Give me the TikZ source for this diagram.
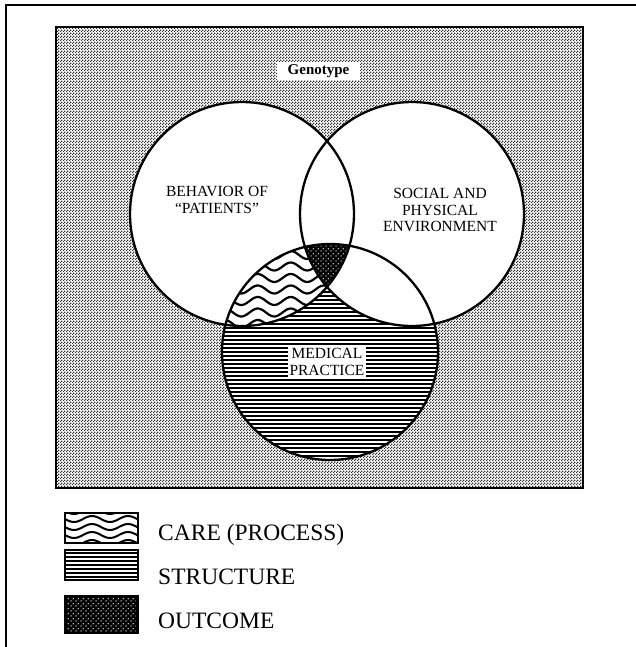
\documentclass[tikz,border=0pt]{standalone}
\usepackage{fontspec}
\setmainfont{Liberation Serif}
\usetikzlibrary{patterns}

\pgfdeclarepatternformonly{checker}{\pgfqpoint{0pt}{0pt}}{\pgfqpoint{3pt}{3pt}}{\pgfqpoint{3pt}{3pt}}{%
 \pgfpathrectangle{\pgfqpoint{0pt}{0pt}}{\pgfqpoint{1.5pt}{1.5pt}}%
 \pgfpathrectangle{\pgfqpoint{1.5pt}{1.5pt}}{\pgfqpoint{1.5pt}{1.5pt}}%
 \pgfusepath{fill}}
\pgfdeclarepatternformonly{whitedots}{\pgfqpoint{0pt}{0pt}}{\pgfqpoint{5pt}{5pt}}{\pgfqpoint{5pt}{5pt}}{%
 \pgfpathcircle{\pgfqpoint{1.25pt}{1.25pt}}{0.8pt}%
 \pgfpathcircle{\pgfqpoint{3.75pt}{3.75pt}}{0.8pt}%
 \pgfusepath{fill}}

\tikzset{
  outline/.style={line width=2.3pt, black},
  wave/.style={line width=2.2pt, black},
  hline/.style={line width=2pt, black},
  lbl/.style={align=center, font=\fontsize{15.5}{16.5}\selectfont, inner sep=1pt},
  legtext/.style={anchor=base west, font=\fontsize{23.5}{26}\selectfont, inner sep=0pt},
}

\begin{document}
\begin{tikzpicture}[x=1pt,y=-1pt]
\useasboundingbox (0,0) rectangle (636,647);
\fill[white] (0,0) rectangle (636,647);

% outer frame
\draw[line width=1.3pt] (5,5) -- (636,5);
\draw[line width=1.3pt] (6,5) -- (6,647);

% coordinates
\coordinate (cL) at (242,214);
\coordinate (cR) at (412,214);
\coordinate (cM) at (330,352);
\def\rL{112}
\def\rR{112}
\def\rM{108}

% background
\fill[pattern=checker, pattern color=black!80] (56,27) rectangle (583,488);
\draw[line width=2pt] (56,27) rectangle (583,488);

% white circles
\fill[white] (cL) circle (\rL);
\fill[white] (cR) circle (\rR);
\fill[white] (cM) circle (\rM);

% structure: medical circle horizontal lines
\begin{scope}
  \clip (cM) circle (\rM);
  \foreach \yy in {244,248,...,464}
    \draw[hline] (215,\yy) -- (445,\yy);
\end{scope}

% care: L and M
\begin{scope}
  \clip (cL) circle (\rL);
  \clip (cM) circle (\rM);
  \fill[white] (cM) circle (\rM);
  \foreach \k in {0,...,9}
    \draw[wave] plot[domain=200:380, samples=90] (\x, {232+\k*11.5 + 4*sin((\x-200)/33*360)});
\end{scope}

% R and M: white
\begin{scope}
  \clip (cR) circle (\rR);
  \fill[white] (cM) circle (\rM);
\end{scope}

% outcome: L, R and M
\begin{scope}
  \clip (cL) circle (\rL);
  \clip (cR) circle (\rR);
  \fill[black] (cM) circle (\rM);
  \fill[pattern=whitedots, pattern color=white] (cM) circle (\rM);
\end{scope}

% outlines
\draw[outline] (cL) circle (\rL);
\draw[outline] (cR) circle (\rR);
\draw[outline] (cM) circle (\rM);

% labels
\node[fill=white, minimum width=83pt, minimum height=18pt, inner sep=0pt, font=\bfseries\fontsize{15}{17}\selectfont] (geno) at (318.5,71) {Genotype};
\node[lbl] (beh) at (217,200) {BEHAVIOR OF\\``PATIENTS''};
\node[lbl] (soc) at (440,210) {SOCIAL AND\\PHYSICAL\\ENVIRONMENT};
\node[lbl, fill=white, inner xsep=1.5pt, inner ysep=2pt] (med) at (327,362) {MEDICAL\\PRACTICE};

% legend
\begin{scope}
  \clip (65,513) rectangle (138,543);
  \foreach \k in {0,...,4}
    \draw[line width=2pt] plot[domain=60:140, samples=60] (\x, {511+\k*8 + 3*sin((\x-65)/36*360)});
\end{scope}
\draw[line width=2pt] (65,513) rectangle (138,543);
\node[legtext] (care) at (158,540) {CARE (PROCESS)};

\begin{scope}
  \clip (65,550) rectangle (138,580);
  \foreach \yy in {553,557,...,577}
    \draw[hline] (65,\yy) -- (138,\yy);
\end{scope}
\draw[line width=2pt] (65,550) rectangle (138,580);
\node[legtext] (struct) at (158,584) {STRUCTURE};

\fill[black] (65,596) rectangle (138,633);
\fill[pattern=whitedots, pattern color=white] (67,598) rectangle (136,631);
\draw[line width=2pt] (65,596) rectangle (138,633);
\node[legtext] (outc) at (158,628) {OUTCOME};
\end{tikzpicture}
\end{document}
